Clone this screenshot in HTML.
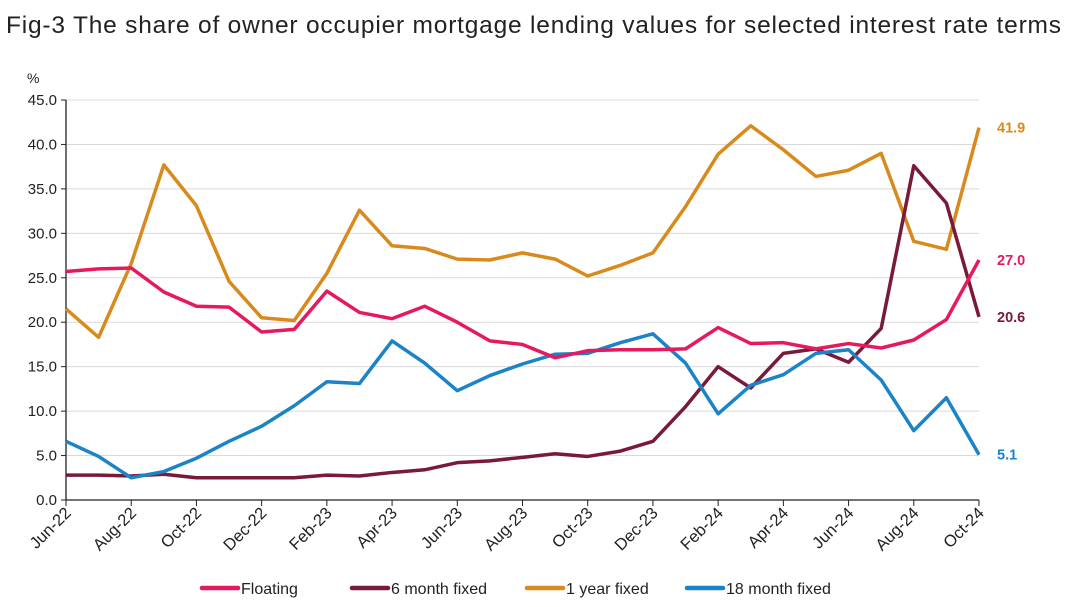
<!DOCTYPE html>
<html><head><meta charset="utf-8"><style>
body{margin:0;background:#fff;font-family:"Liberation Sans",sans-serif;}
svg{display:block}
</style></head><body>
<svg id="c" width="1078" height="607">
<text x="6" y="33" font-size="24.5" fill="#222" textLength="1055">Fig-3 The share of owner occupier mortgage lending values for selected interest rate terms</text>
<text x="27" y="83" font-size="14" fill="#222">%</text>
<g id="grid"></g><g id="axes"></g><g id="series"></g><g id="labels"></g><g id="legend"></g>
</svg>
<script>
const months=["Jun-22","Jul-22","Aug-22","Sep-22","Oct-22","Nov-22","Dec-22","Jan-23","Feb-23","Mar-23","Apr-23","May-23","Jun-23","Jul-23","Aug-23","Sep-23","Oct-23","Nov-23","Dec-23","Jan-24","Feb-24","Mar-24","Apr-24","May-24","Jun-24","Jul-24","Aug-24","Sep-24","Oct-24"];
const floating=[25.7,26.0,26.1,23.4,21.8,21.7,18.9,19.2,23.5,21.1,20.4,21.8,20.0,17.9,17.5,16.0,16.8,16.9,16.9,17.0,19.4,17.6,17.7,17.0,17.6,17.1,18.0,20.3,27.0];
const sixMonth=[2.8,2.8,2.7,2.9,2.5,2.5,2.5,2.5,2.8,2.7,3.1,3.4,4.2,4.4,4.8,5.2,4.9,5.5,6.6,10.5,15.0,12.6,16.5,17.0,15.5,19.3,37.6,33.4,20.6];
const oneYear=[21.5,18.3,26.6,37.7,33.1,24.6,20.5,20.2,25.5,32.6,28.6,28.3,27.1,27.0,27.8,27.1,25.2,26.4,27.8,33.0,38.9,42.1,39.4,36.4,37.1,39.0,29.1,28.2,41.9];
const eighteenMonth=[6.6,4.9,2.5,3.2,4.7,6.6,8.3,10.6,13.3,13.1,17.9,15.4,12.3,14.0,15.3,16.4,16.5,17.7,18.7,15.4,9.7,12.9,14.1,16.5,16.9,13.5,7.8,11.5,5.1];
const yTicks=[0,5,10,15,20,25,30,35,40,45];
const seriesNames=["Floating","6 month fixed","1 year fixed","18 month fixed"];
const NS="http://www.w3.org/2000/svg";
const X0=66,X1=979,Y0=500,Y1=100,YMAX=45;
const xs=i=>X0+(X1-X0)*i/(months.length-1);
const ys=v=>Y0-(Y0-Y1)*v/YMAX;
function mk(tag,attrs,parent,txt){const e=document.createElementNS(NS,tag);for(const k in attrs)e.setAttribute(k,attrs[k]);if(txt!==undefined)e.textContent=txt;document.getElementById(parent).appendChild(e);return e;}
yTicks.forEach(v=>{
  if(v>0){const g=mk("line",{x1:X0,x2:X1,y1:ys(v),y2:ys(v),stroke:"#d9d9d9","stroke-width":1},"grid");
  
  }
  const t=mk("text",{x:57,y:ys(v)+5,"text-anchor":"end","font-size":15,fill:"#222"},"axes",v.toFixed(1));
  
  
  const tk=mk("line",{x1:X0-5,x2:X0,y1:ys(v),y2:ys(v),stroke:"#222"},"axes");
  
  
});
const ya=mk("line",{x1:X0,x2:X0,y1:Y1,y2:Y0,stroke:"#222","stroke-width":1.3},"axes");


const xa=mk("line",{x1:X0,x2:X1,y1:Y0,y2:Y0,stroke:"#222","stroke-width":1.3},"axes");


months.forEach((m,i)=>{
  if(i%2)return;
  const x=xs(i);
  const tk=mk("line",{x1:x,x2:x,y1:Y0,y2:Y0+6,stroke:"#222"},"axes");
  
  
  const t=mk("text",{x:x+6,y:Y0+14,"text-anchor":"end","font-size":16.5,fill:"#222",transform:`rotate(-45 ${x+6} ${Y0+14})`},"axes",m);
  
  
});
const data=[floating,sixMonth,oneYear,eighteenMonth];
const colors=["#e6195e","#7a1a3a","#d98a1c","#1a84c6"];
const keys=["floating","6-month-fixed","1-year-fixed","18-month-fixed"];
[2,1,3,0].forEach(k=>{
  const p=mk("polyline",{points:data[k].map((v,i)=>xs(i)+","+ys(v)).join(" "),fill:"none",stroke:colors[k],"stroke-width":3.5,"stroke-linejoin":"round"},"series");
  
  
});
data.forEach((d,k)=>{
  const v=d[d.length-1];
  const t=mk("text",{x:997,y:ys(v)+5,"font-size":14.5,"font-weight":"bold",fill:colors[k]},"labels",v.toFixed(1));
  
  
});
const lx=[200,350,525,685];
seriesNames.forEach((n,k)=>{
  const l=mk("line",{x1:lx[k]+2,x2:lx[k]+38,y1:588,y2:588,stroke:colors[k],"stroke-width":4.5,"stroke-linecap":"round"},"legend");
  
  
  const t=mk("text",{x:lx[k]+41,y:594,"font-size":16,fill:"#222"},"legend",n);
  
  
});
</script>
</body></html>
